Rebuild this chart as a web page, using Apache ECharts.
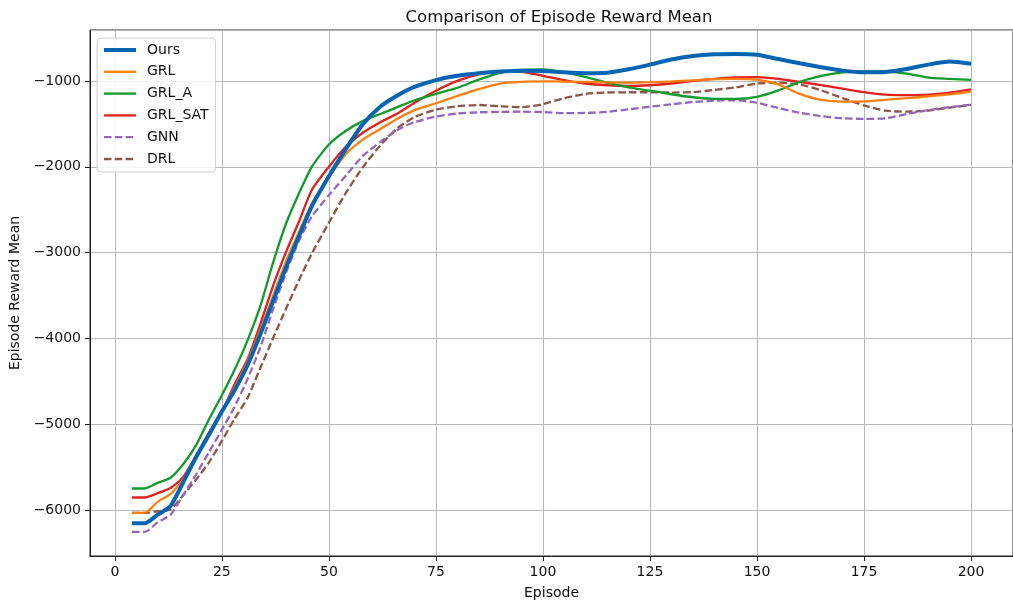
<!DOCTYPE html>
<html>
<head>
<meta charset="utf-8">
<script src="https://cdn.jsdelivr.net/npm/echarts@6/dist/echarts.min.js"></script>
<style>
html,body{margin:0;padding:0;background:#fff;}
#chart{width:1013px;height:605px;}
</style>
</head>
<body>
<div id="chart"></div>
<script>
const episodes = [4,7,10,13,16,19,22,25,28,31,34,37,40,43,46,50,54,58,62,66,70,75,80,85,90,95,100,105,110,115,120,125,130,135,140,145,150,155,160,165,170,175,180,185,190,195,200];

const ours   = [-6150,-6150,-6050,-5950,-5670,-5380,-5120,-4850,-4600,-4310,-3950,-3560,-3170,-2810,-2460,-2110,-1790,-1500,-1300,-1170,-1070,-990,-940,-910,-890,-880,-885,-900,-910,-905,-865,-810,-750,-710,-690,-685,-695,-745,-795,-840,-880,-900,-895,-860,-810,-775,-800];
const grl    = [-6030,-6030,-5900,-5810,-5640,-5370,-5110,-4840,-4570,-4270,-3900,-3500,-3100,-2760,-2430,-2120,-1850,-1680,-1560,-1440,-1340,-1260,-1175,-1095,-1030,-1010,-1005,-1008,-1012,-1016,-1020,-1015,-1005,-993,-980,-975,-985,-1040,-1150,-1220,-1240,-1238,-1220,-1200,-1180,-1155,-1124];
const grlA   = [-5745,-5745,-5680,-5620,-5460,-5240,-4940,-4660,-4360,-4020,-3620,-3110,-2660,-2310,-2000,-1740,-1580,-1465,-1385,-1305,-1225,-1150,-1080,-985,-905,-872,-866,-900,-955,-1020,-1075,-1113,-1155,-1190,-1208,-1210,-1185,-1110,-1010,-940,-900,-890,-890,-915,-962,-975,-988];
const grlSat = [-5850,-5850,-5800,-5740,-5610,-5360,-5090,-4850,-4530,-4240,-3830,-3380,-2990,-2640,-2270,-2000,-1764,-1600,-1480,-1380,-1255,-1115,-1000,-925,-885,-895,-940,-990,-1030,-1050,-1058,-1050,-1030,-1000,-975,-960,-955,-975,-1010,-1050,-1090,-1130,-1160,-1165,-1160,-1135,-1097];
const gnn    = [-6250,-6250,-6140,-6050,-5820,-5580,-5320,-5060,-4790,-4470,-4100,-3650,-3230,-2860,-2580,-2330,-2100,-1870,-1710,-1570,-1480,-1415,-1380,-1365,-1360,-1358,-1362,-1375,-1372,-1360,-1330,-1300,-1272,-1245,-1230,-1225,-1255,-1315,-1370,-1410,-1435,-1442,-1435,-1385,-1340,-1305,-1279];
const drl    = [-6030,-6030,-6010,-5990,-5820,-5640,-5440,-5190,-4930,-4690,-4340,-3990,-3650,-3320,-3010,-2650,-2300,-2000,-1750,-1550,-1420,-1335,-1295,-1280,-1295,-1305,-1270,-1200,-1150,-1135,-1132,-1132,-1135,-1130,-1105,-1075,-1030,-1020,-1040,-1110,-1200,-1285,-1345,-1358,-1345,-1310,-1279];

const seriesNames = ['Ours','GRL','GRL_A','GRL_SAT','GNN','DRL'];
const seriesValues = [ours, grl, grlA, grlSat, gnn, drl];
const colors = ['#0565b2','#ff7f0e','#139a2e','#e0211f','#9467bd','#8c564b'];
const widths = [4, 2.3, 2.3, 2.3, 2.3, 2.3];
const dashed = [false, false, false, false, true, true];

const titleText = 'Comparison of Episode Reward Mean';
const xName = 'Episode';
const yName = 'Episode Reward Mean';

const FONT = 'DejaVu Sans';
const chart = echarts.init(document.getElementById('chart'));

const dashPattern = [7.5, 3.3];
const series = seriesNames.map((n, i) => ({
  name: n,
  type: 'line',
  data: episodes.map((e, k) => [e, seriesValues[i][k]]),
  showSymbol: false,
  symbol: 'none',
  smooth: 0.2,
  lineStyle: { color: colors[i], width: widths[i], type: dashed[i] ? dashPattern : 'solid', cap: 'butt' },
  itemStyle: { color: colors[i] },
  z: 10 - i,
  animation: false
}));

const minus = v => (v < 0 ? '\u2212' + Math.abs(v) : String(v));

chart.setOption({
  animation: false,
  backgroundColor: '#ffffff',
  title: {
    text: titleText,
    left: 554, top: 4, textAlign: 'center',
    textStyle: { fontFamily: FONT, fontSize: 16.5, fontWeight: 'normal', color: '#111' }
  },
  grid: {
    left: 90, top: 30, width: 928, height: 527,
    show: true, borderColor: '#222', borderWidth: 1, backgroundColor: 'transparent',
    containLabel: false
  },
  legend: {
    show: true,
    orient: 'vertical', left: 97, top: 38,
    data: seriesNames.map((n, i) => ({
      name: n,
      itemStyle: { opacity: 0 },
      lineStyle: { color: colors[i], width: widths[i], opacity: 1, type: dashed[i] ? dashPattern : 'solid' }
    })),
    itemWidth: 32, itemHeight: 14, itemGap: 7.8,
    padding: [5, 7, 6, 5],
    backgroundColor: 'rgba(255,255,255,0.85)',
    borderColor: '#d0d0d0', borderWidth: 1, borderRadius: 4,
    textStyle: { fontFamily: FONT, fontSize: 14, color: '#111', padding: [0, 0, 0, 6] }
  },
  xAxis: {
    type: 'value', min: -5.8, max: 209.8,
    minInterval: 25, maxInterval: 25,
    name: xName, nameLocation: 'middle', nameGap: 30,
    nameTextStyle: { fontFamily: FONT, fontSize: 14, color: '#111' },
    axisLine: { show: true, onZero: false, lineStyle: { color: '#222', width: 1 } },
    axisTick: { show: true, length: 5, inside: false, lineStyle: { color: '#222', width: 1 } },
    axisLabel: { fontFamily: FONT, fontSize: 14, color: '#111', margin: 9, showMinLabel: false, showMaxLabel: false },
    splitLine: { show: true, lineStyle: { color: '#b8b8b8', width: 1 } }
  },
  yAxis: {
    type: 'value', min: -6531, max: -407,
    name: yName, nameLocation: 'middle', nameGap: 67, nameRotate: 90,
    nameTextStyle: { fontFamily: FONT, fontSize: 14, color: '#111' },
    axisLine: { show: true, onZero: false, lineStyle: { color: '#222', width: 1 } },
    axisTick: { show: true, length: 5, inside: false, lineStyle: { color: '#222', width: 1 } },
    axisLabel: { fontFamily: FONT, fontSize: 14, color: '#111', margin: 9, formatter: minus, showMinLabel: false, showMaxLabel: false },
    splitLine: { show: true, lineStyle: { color: '#b8b8b8', width: 1 } }
  },
  series: series
});
</script>
</body>
</html>
